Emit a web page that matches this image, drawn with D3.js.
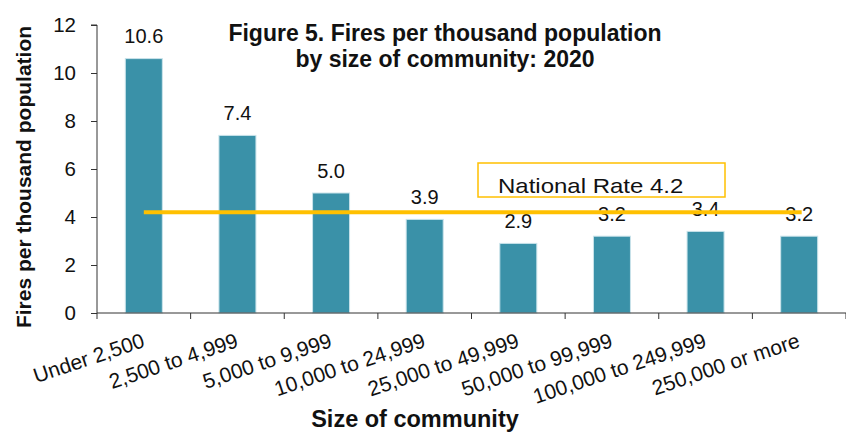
<!DOCTYPE html>
<html>
<head>
<meta charset="utf-8">
<script src="https://cdn.jsdelivr.net/npm/d3@7"></script>
<style>
  body { margin: 0; background: #fff; }
  svg { font-family: "Liberation Sans", Arial, sans-serif; }
</style>
</head>
<body>
<div id="chart"></div>
<script>
// dados do grafico
var categories = ["Under 2,500", "2,500 to 4,999", "5,000 to 9,999", "10,000 to 24,999",
                  "25,000 to 49,999", "50,000 to 99,999", "100,000 to 249,999", "250,000 or more"];
var rates = [10.6, 7.4, 5.0, 3.9, 2.9, 3.2, 3.4, 3.2];
var rateLabels = ["10.6", "7.4", "5.0", "3.9", "2.9", "3.2", "3.4", "3.2"];
var nationalRate = 4.2;
var yTicks = [0, 2, 4, 6, 8, 10, 12];

var W = 846, H = 432;
var margin = { top: 25, right: 0, bottom: 119, left: 97 };
var width = W - margin.left - margin.right;
var height = H - margin.top - margin.bottom;
var fontFam = "Liberation Sans, Arial, sans-serif";

var svg = d3.select("#chart")
    .append("svg")
    .attr("width", W)
    .attr("height", H)
    .append("g")
    .attr("transform", "translate(" + margin.left + "," + margin.top + ")");

var xBand = d3.scaleBand().domain(categories).range([0, width]);
var yScale = d3.scaleLinear().domain([0, 12]).range([height, 0]);
var barW = 37;

function center(i) { return xBand(categories[i]) + xBand.bandwidth() / 2; }

// barras
svg.selectAll(".bar")
    .data(rates)
    .enter()
    .append("rect")
    .attr("class", "bar")
    .attr("x", function(d, i) { return center(i) - barW / 2; })
    .attr("y", function(d) { return yScale(d); })
    .attr("width", barW)
    .attr("height", function(d) { return height - yScale(d); })
    .attr("fill", "#3a91a8")
    .attr("stroke", "#c9e3ea")
    .attr("stroke-width", 1);

// rotulos de valor
svg.selectAll(".val")
    .data(rates)
    .enter()
    .append("text")
    .attr("class", "val")
    .attr("x", function(d, i) { return center(i); })
    .attr("y", function(d) { return yScale(d) - 15.5; })
    .attr("text-anchor", "middle")
    .attr("font-size", "20px")
    .attr("fill", "#111")
    .text(function(d, i) { return rateLabels[i]; });

// linha da taxa nacional
svg.append("line")
    .attr("x1", center(0))
    .attr("x2", center(categories.length - 1) + 2.5)
    .attr("y1", yScale(nationalRate))
    .attr("y2", yScale(nationalRate))
    .attr("stroke", "#ffc000")
    .attr("stroke-width", 4);

// caixa da legenda
svg.append("rect")
    .attr("x", 381)
    .attr("y", 138)
    .attr("width", 247)
    .attr("height", 34)
    .attr("fill", "none")
    .attr("stroke", "#ffc000")
    .attr("stroke-width", 1.5);
svg.append("text")
    .attr("transform", "translate(401,167.5) scale(1.2,1)")
    .attr("font-size", "20px")
    .attr("fill", "#111")
    .text("National Rate " + nationalRate);

// eixos
var yAxis = d3.axisLeft(yScale).tickValues(yTicks).tickSize(6).tickPadding(15);
var gy = svg.append("g").call(yAxis);
gy.selectAll("text").attr("font-size", "20.5px").attr("fill", "#111").attr("font-family", fontFam);
gy.selectAll("line").attr("stroke", "#333");
gy.select(".domain").attr("stroke", "#333").attr("d", "M-6,0H0V" + height);

var xAxis = d3.axisBottom(xBand).tickSize(0);
var gx = svg.append("g").attr("transform", "translate(0," + height + ")").call(xAxis);
gx.select(".domain").attr("stroke", "#333").attr("d", "M0,0H" + width);
gx.selectAll(".tick text")
    .attr("font-size", "21px")
    .attr("fill", "#111")
    .attr("font-family", fontFam)
    .attr("text-anchor", "end")
    .attr("dy", null)
    .attr("y", 0)
    .attr("transform", "translate(2,33.5) rotate(-18.5)");
// marcas entre categorias
svg.selectAll(".xtick")
    .data(d3.range(categories.length + 1))
    .enter()
    .append("line")
    .attr("x1", function(i) { return i * xBand.bandwidth(); })
    .attr("x2", function(i) { return i * xBand.bandwidth(); })
    .attr("y1", height)
    .attr("y2", height + 6)
    .attr("stroke", "#333");

// titulos
var title = svg.append("text")
    .attr("x", 348)
    .attr("y", 16)
    .attr("text-anchor", "middle")
    .attr("font-size", "23px")
    .attr("font-weight", "bold")
    .attr("fill", "#111");
title.append("tspan").attr("x", 348).attr("dy", 0).text("Figure 5. Fires per thousand population");
title.append("tspan").attr("x", 348).attr("dy", 26).text("by size of community: 2020");

svg.append("text")
    .attr("x", 318)
    .attr("y", height + 114)
    .attr("text-anchor", "middle")
    .attr("font-size", "23.5px")
    .attr("font-weight", "bold")
    .attr("fill", "#111")
    .text("Size of community");

svg.append("text")
    .attr("transform", "translate(-66," + (height / 2 + 8) + ") rotate(-90)")
    .attr("text-anchor", "middle")
    .attr("font-size", "21px")
    .attr("font-weight", "bold")
    .attr("fill", "#111")
    .text("Fires per thousand population");
</script>
</body>
</html>
